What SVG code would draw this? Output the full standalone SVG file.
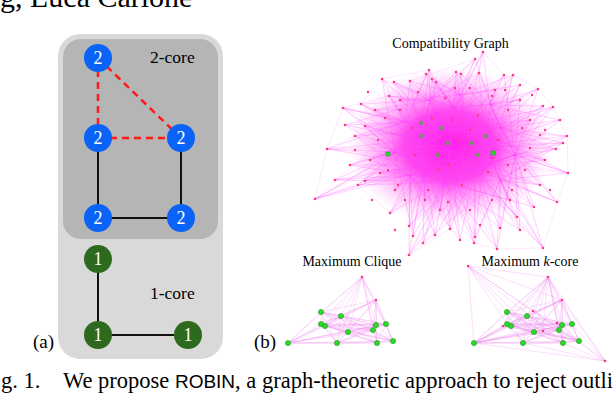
<svg xmlns="http://www.w3.org/2000/svg" width="614" height="394" viewBox="0 0 614 394">
<defs>
<radialGradient id="core" cx="0.5" cy="0.5" r="0.5">
<stop offset="0" stop-color="#ff10e8" stop-opacity="0.95"/>
<stop offset="0.45" stop-color="#ff22ea" stop-opacity="0.82"/>
<stop offset="0.75" stop-color="#ff60f0" stop-opacity="0.38"/>
<stop offset="1" stop-color="#ff90f5" stop-opacity="0"/>
</radialGradient>
<circle id="gn" r="2.6"/>
</defs>
<style>
.serif{font-family:'Liberation Serif','Times New Roman',serif;fill:#000}
.sans{font-family:'Liberation Sans',Arial,sans-serif}
.blue{fill:#0a63f6}
.green{fill:#2e6a1e}
.num{font-family:'Liberation Serif','Times New Roman',serif;font-size:18px;fill:#fff;text-anchor:middle}
.solid{stroke:#111;stroke-width:2;fill:none}
.dash{stroke:#ff1a1a;stroke-width:2.5;stroke-dasharray:7 5;fill:none}
.spk{stroke:#ff40ff;stroke-width:0.5;fill:none;opacity:0.5}
.spk2{stroke:#ff60ff;stroke-width:0.4;fill:none;opacity:0.4}
.pe{stroke:#f080f0;stroke-width:0.5;fill:none;opacity:0.5}
.pd{fill:#ff3a7a}
.gd{fill:#22e022;stroke:#2f8f2f;stroke-width:0.6}
.gg{fill:#7f8a72}
</style>

<text class="serif" x="0" y="7" font-size="30">g, Luca Carlone</text>

<!-- (a) k-core illustration -->
<rect x="58" y="34" width="165" height="325" rx="22" fill="#d9d9d9"/>
<rect x="63" y="39" width="155" height="200" rx="18" fill="#b5b5b5"/>
<text class="serif" x="150" y="63" font-size="17.5">2-core</text>
<text class="serif" x="150" y="299" font-size="17.5">1-core</text>
<text class="serif" x="33" y="348" font-size="19">(a)</text>

<g id="connectors">
<line class="dash" x1="98" y1="58" x2="98" y2="138"/>
<line class="dash" x1="98" y1="138" x2="181" y2="138"/>
<line class="dash" x1="98" y1="58" x2="181" y2="138"/>
<line class="solid" x1="98" y1="138" x2="98" y2="218"/>
<line class="solid" x1="181" y1="138" x2="181" y2="218"/>
<line class="solid" x1="98" y1="218" x2="181" y2="218"/>
<line class="solid" x1="98" y1="259" x2="98" y2="335"/>
<line class="solid" x1="98" y1="335" x2="188" y2="335"/>
</g>
<g id="n1"><circle class="blue" cx="98" cy="58" r="14"/><text class="num" x="98" y="64">2</text></g>
<g id="n2"><circle class="blue" cx="98" cy="138" r="14"/><text class="num" x="98" y="144">2</text></g>
<g id="n3"><circle class="blue" cx="181" cy="138" r="14"/><text class="num" x="181" y="144">2</text></g>
<g id="n4"><circle class="blue" cx="98" cy="218" r="14"/><text class="num" x="98" y="224">2</text></g>
<g id="n5"><circle class="blue" cx="181" cy="218" r="14"/><text class="num" x="181" y="224">2</text></g>
<g id="n6"><circle class="green" cx="98" cy="259" r="14"/><text class="num" x="98" y="265">1</text></g>
<g id="n7"><circle class="green" cx="98" cy="335" r="14"/><text class="num" x="98" y="341">1</text></g>
<g id="n8"><circle class="green" cx="188" cy="335" r="14"/><text class="num" x="188" y="341">1</text></g>

<!-- (b) Compatibility graph -->
<text class="serif" x="450.5" y="48" font-size="14" text-anchor="middle">Compatibility Graph</text>
<ellipse cx="450" cy="146" rx="102" ry="78" fill="url(#core)"/>
<path class="spk" d="M460 95L483 52L455 108L490 105L483 52L465 125M430 100L475 59L500 128L440 130L475 59L455 108M430 100L429 70L405 122L465 125L429 70L420 140M455 108L426 74L440 130L395 152L426 74L460 95M460 95L456 72L450 150L430 100L456 72L500 128M490 105L461 74L420 140L465 125L461 74L445 182M500 128L479 73L430 100L485 145L479 73L455 108M490 105L504 75L465 125L515 155L504 75L440 130M500 128L513 75L460 95L485 145L513 75L450 150M405 122L382 79L430 100L440 130L382 79L395 152M430 100L394 82L420 140L455 108L394 82L450 150M460 95L410 81L405 122L425 165L410 81L465 125M455 108L432 79L440 130L430 100L432 79L485 145M420 140L436 82L460 95L465 125L436 82L425 165M490 105L538 89L500 128L515 155L538 89L465 125M405 122L361 104L420 140L430 100L361 104L450 150M395 152L343 108L405 122L440 130L343 108L425 165M430 100L389 96L405 122L455 108L389 96L420 140M500 128L543 106L490 105L485 145L543 106L515 155M515 155L553 107L465 125L500 128L553 107L475 168M515 155L567 136L485 145L500 180L567 136L500 128M395 152L327 149L420 140L425 165L327 149L405 122M395 152L355 136L440 130L405 122L355 136L410 175M405 122L365 126L420 140L450 150L365 126L395 152M515 155L556 149L485 145L475 168L556 149L500 128M500 128L563 143L515 155L450 150L563 143L500 180M410 175L315 199L395 152L425 165L315 199L420 140M410 175L358 185L395 152L445 182L358 185L420 140M410 175L390 213L445 182L425 165L390 213L450 150M445 182L409 226L410 175L475 168L409 226L425 165M445 182L450 229L475 168L425 165L450 229L450 150M475 168L475 237L500 180L445 182L475 237L485 145M500 180L497 249L475 168L515 155L497 249L445 182M410 175L413 236L445 182L425 165L413 236L395 152M500 180L543 248L515 155L475 168L543 248L485 145M500 180L517 217L475 168L515 155L517 217L450 150M515 155L534 207L500 180L485 145L534 207L445 182M515 155L557 202L500 180L500 128L557 202L475 168M515 155L568 173L485 145L500 180L568 173L465 125M395 152L380 173L425 165L420 140L380 173L410 175M410 175L365 181L395 152L450 150L365 181L425 165M445 182L409 255L410 175L475 168L409 255L425 165M425 165L423 243L445 182L450 150L423 243L500 180M445 182L474 243L500 180L475 168L474 243L450 150M490 105L495 90L460 95L465 125L495 90L485 145M500 128L520 100L490 105L515 155L520 100L455 108M500 128L530 120L515 155L485 145L530 120L440 130M515 155L545 160L485 145L475 168L545 160L465 125M500 180L540 185L515 155L475 168L540 185L450 150M500 180L510 200L475 168L445 182L510 200L485 145M500 180L520 230L515 155L475 168L520 230L445 182M445 182L440 210L425 165L410 175L440 210L450 150M410 175L425 200L425 165L445 182L425 200L420 140M410 175L395 190L395 152L425 165L395 190L440 130M395 152L370 160L420 140L410 175L370 160L440 130M395 152L350 165L410 175L420 140L350 165L425 165M405 122L375 110L430 100L420 140L375 110L455 108M430 100L400 100L405 122L440 130L400 100L460 95M460 95L455 88L455 108L430 100L455 88L465 125M490 105L520 85L500 128L460 95L520 85L485 145M405 122L345 125L395 152L420 140L345 125L430 100M410 175L335 180L395 152L425 165L335 180L445 182M500 128L560 120L490 105L515 155L560 120L485 145M500 180L500 228L475 168L445 182L500 228L515 155M445 182L460 240L475 168L450 150L460 240L410 175M445 182L435 235L425 165L410 175L435 235L475 168"/>
<path class="spk2" d="M483 52L504 75M483 52L461 74M475 59L410 81M429 70L382 79M382 79L361 104M343 108L327 149M327 149L315 199M315 199L358 185M315 199L365 181M358 185L390 213M409 255L450 229M409 255L423 243M474 243L497 249M497 249L543 248M543 248L557 202M557 202L568 173M568 173L567 136M567 136L553 107M553 107L538 89M538 89L513 75M343 108L389 96M327 149L355 136M483 52L450 229M429 70L497 249M382 79L543 248M343 108L557 202M327 149L568 173M315 199L538 89M361 104L474 243M394 82L517 217M513 75L409 226M553 107L390 213M567 136L365 126M563 143L327 149M556 149L343 108M543 248L389 96M475 237L436 82M409 255L504 75M423 243L543 106M497 249L410 81M568 173L355 136M315 199L475 59"/>
<g class="pd">
<circle cx="483" cy="52" r="1.3"/><circle cx="475" cy="59" r="1.3"/><circle cx="429" cy="70" r="1.3"/><circle cx="426" cy="74" r="1.3"/><circle cx="456" cy="72" r="1.3"/><circle cx="461" cy="74" r="1.3"/><circle cx="479" cy="73" r="1.3"/><circle cx="504" cy="75" r="1.3"/><circle cx="513" cy="75" r="1.3"/><circle cx="382" cy="79" r="1.3"/><circle cx="394" cy="82" r="1.3"/><circle cx="410" cy="81" r="1.3"/><circle cx="432" cy="79" r="1.3"/><circle cx="436" cy="82" r="1.3"/><circle cx="538" cy="89" r="1.3"/><circle cx="361" cy="104" r="1.3"/><circle cx="343" cy="108" r="1.3"/><circle cx="389" cy="96" r="1.3"/><circle cx="543" cy="106" r="1.3"/><circle cx="553" cy="107" r="1.3"/><circle cx="567" cy="136" r="1.3"/><circle cx="327" cy="149" r="1.3"/><circle cx="355" cy="136" r="1.3"/><circle cx="365" cy="126" r="1.3"/><circle cx="556" cy="149" r="1.3"/><circle cx="563" cy="143" r="1.3"/><circle cx="315" cy="199" r="1.3"/><circle cx="358" cy="185" r="1.3"/><circle cx="390" cy="213" r="1.3"/><circle cx="409" cy="226" r="1.3"/><circle cx="450" cy="229" r="1.3"/><circle cx="475" cy="237" r="1.3"/><circle cx="497" cy="249" r="1.3"/><circle cx="413" cy="236" r="1.3"/><circle cx="543" cy="248" r="1.3"/><circle cx="517" cy="217" r="1.3"/><circle cx="534" cy="207" r="1.3"/><circle cx="557" cy="202" r="1.3"/><circle cx="568" cy="173" r="1.3"/><circle cx="380" cy="173" r="1.3"/><circle cx="365" cy="181" r="1.3"/><circle cx="409" cy="255" r="1.3"/><circle cx="423" cy="243" r="1.3"/><circle cx="474" cy="243" r="1.3"/><circle cx="495" cy="90" r="1.3"/><circle cx="520" cy="100" r="1.3"/><circle cx="530" cy="120" r="1.3"/><circle cx="545" cy="160" r="1.3"/><circle cx="540" cy="185" r="1.3"/><circle cx="510" cy="200" r="1.3"/><circle cx="520" cy="230" r="1.3"/><circle cx="440" cy="210" r="1.3"/><circle cx="425" cy="200" r="1.3"/><circle cx="395" cy="190" r="1.3"/><circle cx="370" cy="160" r="1.3"/><circle cx="350" cy="165" r="1.3"/><circle cx="375" cy="110" r="1.3"/><circle cx="400" cy="100" r="1.3"/><circle cx="455" cy="88" r="1.3"/><circle cx="520" cy="85" r="1.3"/><circle cx="345" cy="125" r="1.3"/><circle cx="335" cy="180" r="1.3"/><circle cx="560" cy="120" r="1.3"/><circle cx="500" cy="228" r="1.3"/><circle cx="460" cy="240" r="1.3"/><circle cx="435" cy="235" r="1.3"/>
<circle cx="400" cy="110" r="1.2"/><circle cx="418" cy="92" r="1.2"/><circle cx="445" cy="98" r="1.2"/><circle cx="470" cy="88" r="1.2"/><circle cx="492" cy="96" r="1.2"/><circle cx="508" cy="110" r="1.2"/><circle cx="522" cy="128" r="1.2"/><circle cx="530" cy="148" r="1.2"/><circle cx="525" cy="170" r="1.2"/><circle cx="512" cy="190" r="1.2"/><circle cx="492" cy="200" r="1.2"/><circle cx="470" cy="210" r="1.2"/><circle cx="448" cy="202" r="1.2"/><circle cx="428" cy="190" r="1.2"/><circle cx="405" cy="200" r="1.2"/><circle cx="388" cy="170" r="1.2"/><circle cx="378" cy="140" r="1.2"/><circle cx="385" cy="118" r="1.2"/><circle cx="412" cy="128" r="1.2"/><circle cx="432" cy="118" r="1.2"/><circle cx="452" cy="120" r="1.2"/><circle cx="478" cy="115" r="1.2"/><circle cx="498" cy="140" r="1.2"/><circle cx="508" cy="165" r="1.2"/><circle cx="488" cy="172" r="1.2"/><circle cx="462" cy="185" r="1.2"/><circle cx="438" cy="170" r="1.2"/><circle cx="415" cy="155" r="1.2"/><circle cx="458" cy="140" r="1.2"/><circle cx="492" cy="158" r="1.2"/><circle cx="470" cy="130" r="1.2"/><circle cx="448" cy="165" r="1.2"/><circle cx="398" cy="185" r="1.2"/><circle cx="540" cy="135" r="1.2"/><circle cx="532" cy="95" r="1.2"/><circle cx="372" cy="200" r="1.2"/><circle cx="355" cy="150" r="1.2"/><circle cx="395" cy="230" r="1.2"/><circle cx="480" cy="225" r="1.2"/><circle cx="550" cy="190" r="1.2"/><circle cx="545" cy="130" r="1.2"/><circle cx="368" cy="92" r="1.2"/><circle cx="505" cy="90" r="1.2"/>
</g>
<g class="gg">
<rect x="419" y="121" width="4" height="4"/><rect x="439" y="126" width="4" height="4"/><rect x="419" y="134" width="4" height="4"/><rect x="470" y="141" width="4" height="4"/><rect x="484" y="134" width="4" height="4"/><rect x="446" y="141" width="4" height="4"/><rect x="475" y="153" width="4" height="4"/><rect x="435" y="153" width="4" height="4"/>
</g>
<g class="gd">
<rect x="386" y="152" width="4" height="4"/><rect x="491" y="151" width="4" height="4"/>
</g>

<!-- Maximum Clique -->
<text class="serif" x="352" y="266" font-size="14" text-anchor="middle">Maximum Clique</text>
<path id="cliqueEdges" class="pe" d="M288 343L321 312L321 324L325 326L341 316L348 332L337 343L376 325L373 330L386 324L377 343L393 341L362 277L376 300Z M288 343L325 326L337 343L386 324L362 277L321 312L341 316L376 325L377 343L376 300L321 324L348 332L373 330L393 341Z M288 343L348 332L377 343L321 312L337 343L393 341L321 324L376 325L362 277L325 326L373 330L376 300L341 316L386 324Z M288 343L321 324L341 316L337 343L373 330L377 343L362 277Z M321 312L325 326L348 332L376 325L386 324L393 341L376 300Z M288 343L341 316L373 330L362 277L321 324L337 343L377 343Z M321 312L348 332L386 324L376 300L325 326L376 325L393 341Z M288 343L337 343L362 277L341 316L377 343L321 324L373 330Z M321 312L376 325L376 300L348 332L393 341L325 326L386 324Z M288 343L376 325M321 312L373 330M321 324L386 324M325 326L377 343M341 316L393 341M348 332L362 277M337 343L376 300"/>
<g id="cliqueNodes">
<g class="pd"><circle cx="362" cy="277" r="1.3"/><circle cx="376" cy="300" r="1.3"/></g>
<g class="gd"><use href="#gn" x="288" y="343"/><use href="#gn" x="321" y="312"/><use href="#gn" x="321" y="324"/><use href="#gn" x="325" y="326"/><use href="#gn" x="341" y="316"/><use href="#gn" x="348" y="332"/><use href="#gn" x="337" y="343"/><use href="#gn" x="376" y="325"/><use href="#gn" x="373" y="330"/><use href="#gn" x="386" y="324"/><use href="#gn" x="377" y="343"/><use href="#gn" x="393" y="341"/></g>
</g>

<!-- Maximum k-core -->
<text class="serif" x="530" y="266" font-size="14" text-anchor="middle">Maximum <tspan font-style="italic">k</tspan>-core</text>
<use href="#cliqueEdges" transform="translate(186,0)"/>
<path class="pe" d="M468 266L474 343M468 266L548 277M468 266L507 312M468 266L507 324M468 266L562 300M468 266L534 332M468 266L563 343M468 266L605 361M468 266L533 311M605 361L579 341M605 361L563 343M605 361L572 324M605 361L474 343M605 361L562 300M605 361L548 277M605 361L523 343M533 311L474 343M533 311L548 277M533 311L579 341M533 311L562 325M503 326L474 343M503 326L548 277M503 326L579 341M503 326L562 300M543 331L474 343M543 331L548 277M543 331L579 341M543 331L507 312M557 323L474 343M557 323L548 277M557 323L507 324M557 323L579 341"/>
<g class="pd"><circle cx="468" cy="266" r="1.3"/><circle cx="605" cy="361" r="1.3"/><circle cx="533" cy="311" r="1.3"/><circle cx="503" cy="326" r="1.3"/><circle cx="543" cy="331" r="1.3"/><circle cx="557" cy="323" r="1.3"/></g>
<use href="#cliqueNodes" transform="translate(186,0)"/>

<text class="serif" x="254" y="348" font-size="19">(b)</text>

<text class="serif" x="1" y="388" font-size="22.5">g. 1.</text>
<text class="serif" x="63" y="388" font-size="22.5">We propose <tspan class="sans" font-size="19">ROBIN</tspan>, a graph-theoretic approach to reject outli</text>
</svg>
